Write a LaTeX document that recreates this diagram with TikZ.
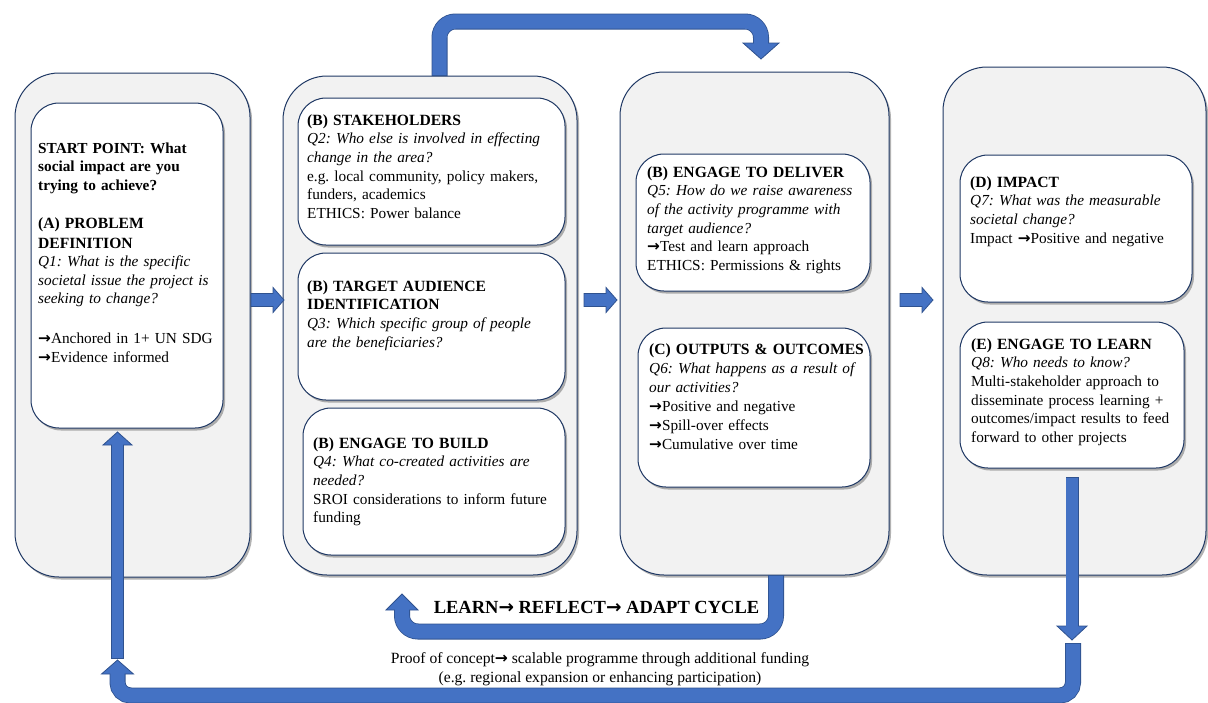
\documentclass[tikz,border=0pt]{standalone}
\usepackage{fontspec}
\setmainfont{Liberation Serif}
\newfontfamily\arrfont{DejaVu Sans}
\usetikzlibrary{shadows}
\definecolor{panelfill}{HTML}{F2F2F2}
\definecolor{navy}{HTML}{1F3864}
\definecolor{afill}{HTML}{4472C4}
\definecolor{aline}{HTML}{2F528F}
\newcommand{\ra}{{\arrfont\bfseries →}}
\newcommand{\hd}[1]{{\fontsize{15.6}{18.6}\selectfont\bfseries #1}}
\frenchspacing
\begin{document}
\begin{tikzpicture}[x=1pt,y=-1pt,
 panel/.style={draw=navy,line width=1pt,fill=panelfill,rounded corners=44pt,anchor=north west,inner sep=0pt,outer sep=0pt,
   drop shadow={shadow xshift=2pt,shadow yshift=-2.5pt,fill=black!60,opacity=0.5}},
 ibox/.style={draw=navy,line width=1pt,fill=white,rounded corners=28pt,anchor=north west,inner sep=0pt,outer sep=0pt,
   drop shadow={shadow xshift=2pt,shadow yshift=-2.5pt,fill=black!60,opacity=0.5}},
 txt/.style={anchor=north west,inner sep=0pt,text width=250pt,align=left,font=\fontsize{15.3}{18.6}\selectfont\frenchspacing},
 ahead/.style={fill=afill,draw=aline,line width=0.8pt,line join=miter},
 shaftA/.style={draw=afill,line width=14.4pt,shorten <=0.8pt,preaction={draw=aline,line width=16pt,shorten <=0pt,shorten >=1pt}},
 shaftB/.style={draw=afill,line width=11.4pt,shorten <=0.8pt,preaction={draw=aline,line width=13pt,shorten <=0pt,shorten >=1pt}},
 rarr/.pic={\path[ahead] (0,-6.5) -- (22,-6.5) -- (22,-12.5) -- (33,0) -- (22,12.5) -- (22,6.5) -- (0,6.5) -- cycle;}
]
\useasboundingbox (0,0) rectangle (1208,702);

% outer panels
\node[panel,minimum width=235pt,minimum height=504pt] (p1) at (15,73) {};
\node[panel,minimum width=294pt,minimum height=499pt] (p2) at (283,76) {};
\node[panel,minimum width=269pt,minimum height=503pt] (p3) at (620,72) {};
\node[panel,minimum width=263pt,minimum height=508pt] (p4) at (943,67) {};

% inner boxes
\node[ibox,minimum width=192pt,minimum height=325pt] (iA) at (31,103) {};
\node[ibox,minimum width=267pt,minimum height=147pt] (iB1) at (298,98) {};
\node[ibox,minimum width=267pt,minimum height=147pt] (iB2) at (298,253) {};
\node[ibox,minimum width=262pt,minimum height=147pt] (iB3) at (303,408) {};
\node[ibox,minimum width=234pt,minimum height=137pt] (iD) at (636,154) {};
\node[ibox,minimum width=232pt,minimum height=159pt] (iC) at (638,328) {};
\node[ibox,minimum width=232pt,minimum height=147pt] (iI) at (960,155) {};
\node[ibox,minimum width=224pt,minimum height=146pt] (iE) at (960,322) {};

% texts
\node[txt] (tA) at (38,141) {\rule{0pt}{12pt}\textbf{START POINT: What}\\ \textbf{social impact are you}\\ \textbf{trying to achieve?}\\[19pt]
\hd{(A) PROBLEM}\\[1.4pt] \hd{DEFINITION}\\
\textit{Q1: What is the specific}\\ \textit{societal issue the project is}\\ \textit{seeking to change?}\\[21pt]
\ra Anchored in 1+ UN SDG\\ \ra Evidence informed};

\node[txt] (tB1) at (307,113) {\rule{0pt}{12pt}\hd{(B) STAKEHOLDERS}\\
\textit{Q2: Who else is involved in effecting}\\ \textit{change in the area?}\\
e.g. local community, policy makers,\\ funders, academics\\ ETHICS: Power balance};

\node[txt] (tB2) at (307,279) {\rule{0pt}{12pt}\hd{(B) TARGET AUDIENCE}\\ \hd{IDENTIFICATION}\\
\textit{Q3: Which specific group of people}\\ \textit{are the beneficiaries?}};

\node[txt] (tB3) at (313,436) {\rule{0pt}{12pt}\hd{(B) ENGAGE TO BUILD}\\
\textit{Q4: What co-created activities are}\\ \textit{needed?}\\
SROI considerations to inform future\\ funding};

\node[txt] (tD) at (647,165) {\rule{0pt}{12pt}\hd{(B) ENGAGE TO DELIVER}\\
\textit{Q5: How do we raise awareness}\\ \textit{of the activity programme with}\\ \textit{target audience?}\\
\ra Test and learn approach\\ ETHICS: Permissions \& rights};

\node[txt,font=\fontsize{15.3}{19}\selectfont\frenchspacing] (tC) at (649,342) {\rule{0pt}{12pt}\hd{(C) OUTPUTS \& OUTCOMES}\\
\textit{Q6: What happens as a result of}\\ \textit{our activities?}\\
\ra Positive and negative\\ \ra Spill-over effects\\ \ra Cumulative over time};

\node[txt] (tI) at (970,175) {\rule{0pt}{12pt}\hd{(D) IMPACT}\\
\textit{Q7: What was the measurable}\\ \textit{societal change?}\\
Impact \ra Positive and negative};

\node[txt] (tE) at (971,337) {\rule{0pt}{12pt}\hd{(E) ENGAGE TO LEARN}\\
\textit{Q8: Who needs to know?}\\
Multi-stakeholder approach to\\ disseminate process learning +\\ outcomes/impact results to feed\\ forward to other projects};

% small right arrows between panels
\pic at (251,300) {rarr};
\pic at (584,300) {rarr};
\pic at (900,300) {rarr};

% top arrow: panel 2 -> panel 3
\coordinate (ts) at ([xshift=9.5pt]p2.north);
\path[ahead] (743,43) -- (779,43) -- (761,59) -- cycle;
\draw[shaftA,rounded corners=16pt] (ts) |- (761,21.5) -- (761,44);

% learn-reflect-adapt loop
\coordinate (ls) at ([xshift=21.5pt]p3.south);
\path[ahead] (386,610) -- (418,610) -- (402,594) -- cycle;
\draw[shaftA,rounded corners=16pt] (ls) |- (402,631.5) -- (402,609);

% down arrow from E
\coordinate (ds) at ([yshift=-9pt]iE.south);
\path[ahead] (1057,626) -- (1087,626) -- (1072,640) -- cycle;
\draw[shaftB] (ds) -- (1072,627);

% big bottom U
\coordinate (us) at (1073,643);
\path[ahead] (101.5,674) -- (133.5,674) -- (117.5,660) -- cycle;
\draw[shaftA,rounded corners=13pt] (us) |- (117.5,695.5) -- (117.5,673);

% up arrow into A
\coordinate (as) at (117.5,659);
\path[ahead] (103,445) -- (132,445) -- (117.5,432) -- cycle;
\draw[shaftB] (as) -- (117.5,444);

% labels
\node[anchor=base,inner sep=0pt,font=\fontsize{18.5}{20}\selectfont\bfseries] (lra) at (596.5,613)
  {LEARN{\arrfont\bfseries →} REFLECT{\arrfont\bfseries →} ADAPT CYCLE};
\node[anchor=north,inner sep=0pt,align=center,font=\fontsize{15.6}{19}\selectfont\frenchspacing] (poc) at (600,651)
  {\rule{0pt}{12pt}Proof of concept\ra{} scalable programme through additional funding\\ (e.g. regional expansion or enhancing participation)};
\end{tikzpicture}
\end{document}
